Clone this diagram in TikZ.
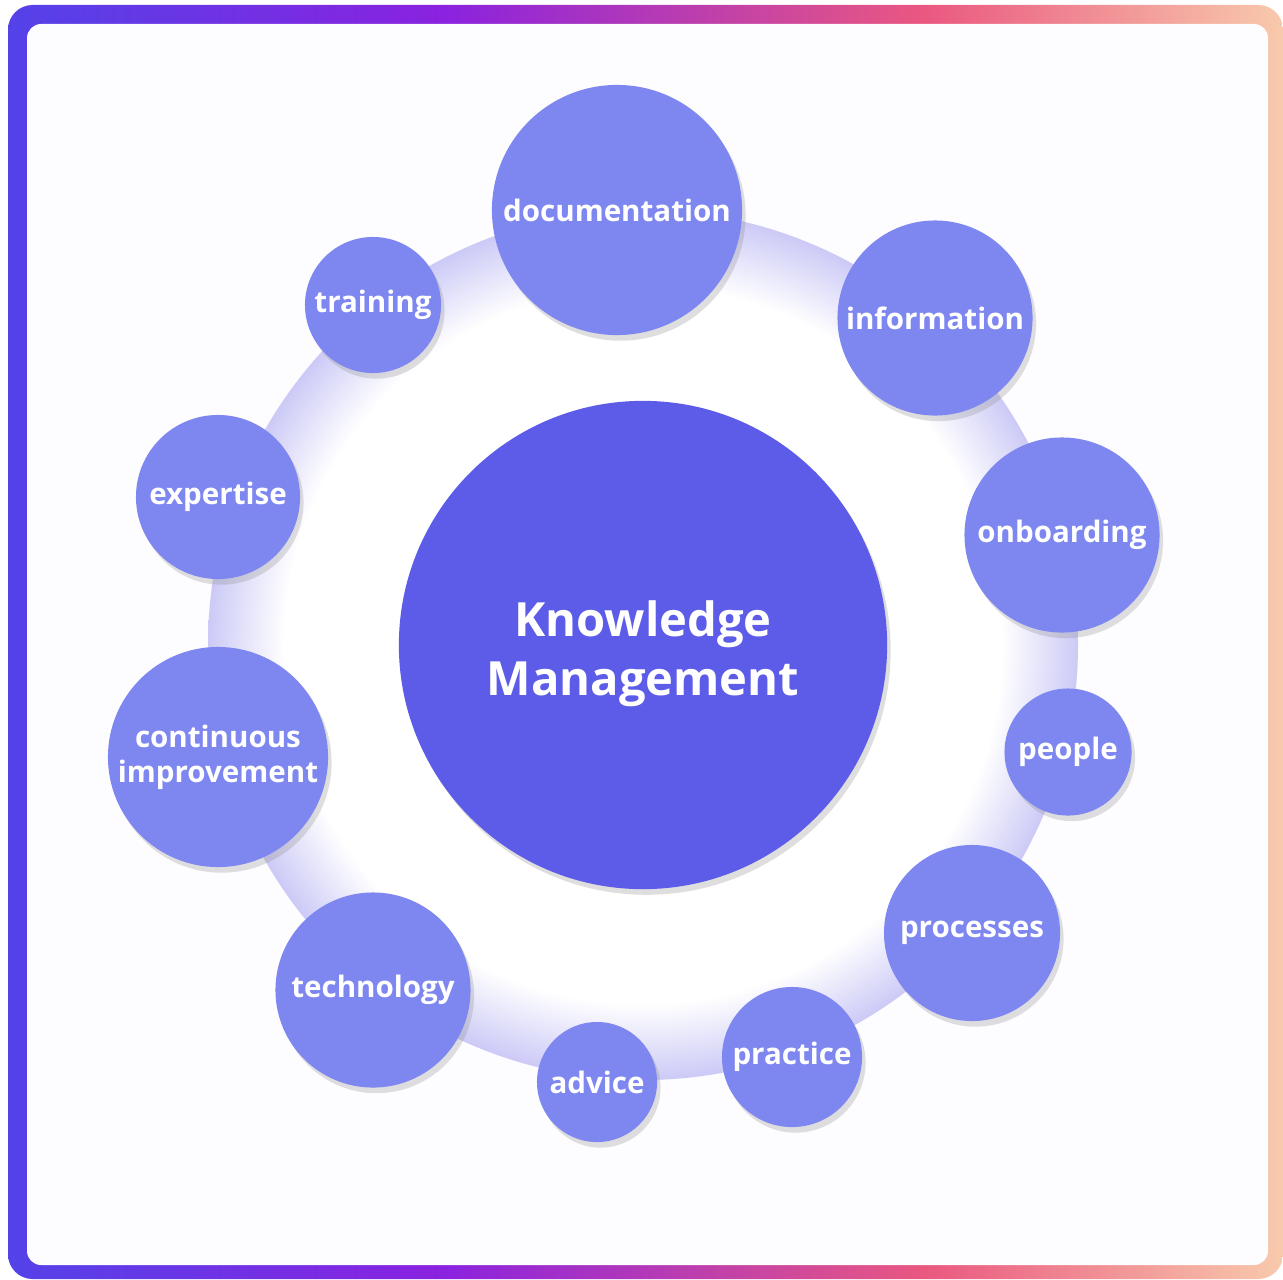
\documentclass[tikz,border=0pt]{standalone}
\usepackage{fontspec}
\setmainfont{Open Sans}
\usepackage{tikz}
\usetikzlibrary{positioning,shadows}
\definecolor{coreblue}{RGB}{92,92,232}
\definecolor{satblue}{RGB}{126,135,240}
\definecolor{ringlav}{RGB}{204,202,246}
\definecolor{paper}{RGB}{253,252,255}
\definecolor{frameA}{RGB}{84,66,232}
\definecolor{frameB}{RGB}{138,34,224}
\definecolor{frameC}{RGB}{234,88,128}
\definecolor{frameD}{RGB}{248,202,172}
% tikz stretches the middle 50bp of a shading over the path
\pgfdeclarehorizontalshading{framegrad}{100bp}{color(0bp)=(frameA); color(25bp)=(frameA); color(42bp)=(frameB); color(61bp)=(frameC); color(75bp)=(frameD); color(100bp)=(frameD)}
\pgfdeclareradialshading{ringglow}{\pgfpoint{0bp}{0bp}}{color(0bp)=(white); color(20.6bp)=(white); color(25bp)=(ringlav); color(50bp)=(ringlav)}
\tikzset{
	softshadow/.style={drop shadow={shadow xshift=1pt, shadow yshift=-1.6pt, opacity=.28, fill=black!45}},
	sat/.style={circle, fill=satblue, text=white, inner sep=0pt, align=center,
		font=\fontsize{8.4}{10}\selectfont\bfseries, softshadow},
	core/.style={circle, fill=coreblue, text=white, inner sep=0pt, align=center,
		font=\fontsize{13.4}{16.8}\selectfont\bfseries, softshadow}
}

\begin{document}
\begin{tikzpicture}[x=0.01cm, y=-0.01cm]% Knowledge management wheel
	\useasboundingbox (0,0) rectangle (1283,1279);
	% frame
	\shade[shading=framegrad, rounded corners=7pt] (8,5) rectangle (1283,1279);
	\fill[paper, rounded corners=4pt] (27,24) rectangle (1268,1265);
	% ring behind the circles
	\coordinate (ctr) at (643,645);
	\shade[shading=ringglow] (ctr) circle (435);
	% center
	\node[core, minimum size=4.88cm] (km) at (ctr) {\rule{0pt}{15pt}Knowledge\\Management};
	% satellites
	\foreach \pos/\d/\name/\txt in {
			{(617,210)}/2.50/doc/documentation,
			{(935,318)}/1.95/info/information,
			{(1062,535)}/1.95/onb/onboarding,
			{(1068,752)}/1.27/ppl/people,
			{(972,933)}/1.76/proc/processes,
			{(792,1057)}/1.40/prac/practice,
			{(597,1082)}/1.20/adv/advice,
			{(373,990)}/1.95/tech/technology,
			{(218,757)}/2.20/ci/{continuous\\improvement},
			{(218,497)}/1.64/exp/expertise,
			{(373,305)}/1.36/trn/training}{
		\node[sat, minimum size=\d cm] (\name) at \pos {\txt};
	}
\end{tikzpicture}
\end{document}
